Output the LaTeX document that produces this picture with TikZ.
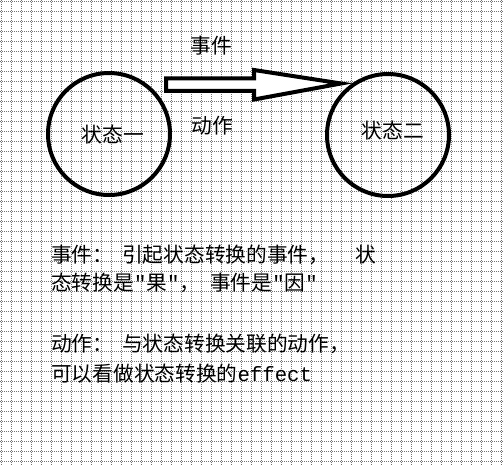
\documentclass[tikz,border=0pt]{standalone}
\usepackage{fontspec}
\newfontfamily\cjk{Noto Sans CJK SC}
\newfontfamily\mono{Liberation Mono}
\begin{document}
\begin{tikzpicture}[x=1pt,y=-1pt,
  gridline/.style={black!55,line width=1pt,dash pattern=on 1pt off 1pt},
  statecircle/.style={circle,draw=black,line width=4pt,minimum size=122pt,inner sep=0pt},
  blockarrow/.style={draw=black,line width=4pt,line join=miter,fill=white},
  txt/.style={inner sep=0pt,text=black,font=\cjk\fontsize{20.7pt}{24pt}\selectfont}]
\useasboundingbox (0,0) rectangle (503,466);
\fill[white] (0,0) rectangle (503,466);
\foreach \i in {0,...,50} {\draw[gridline] ({1.5+10*\i},0) -- ({1.5+10*\i},466);}
\foreach \i in {0,...,46} {\draw[gridline] (0,{1.5+10*\i}) -- (503,{1.5+10*\i});}
% states
\node[statecircle] (s1) at (109,134) {};
\node[statecircle] (s2) at (388,135) {};
\node[txt] (t1) at (113,135) {状态一};
\node[txt] (t2) at (393,131) {状态二};
% block arrow
\draw[blockarrow] (166,78.3) -- (254,78.3) -- (254,70) -- (341,83.5) -- (254,99.5) -- (254,90.8) -- (166,90.8) -- cycle;
\node[txt] (ev) at (211,46) {事件};
\node[txt] (ac) at (212,126) {动作};
% notes
\node[txt,anchor=base west] (l1) at (51,262) {事件：\hspace{9pt}引起状态转换的事件，\hspace{26pt}状};
\node[txt,anchor=base west] (l2) at (51,290.5) {态转换是{\mono "}果{\mono "}，\hspace{10pt}事件是{\mono "}因{\mono "}};
\node[txt,anchor=base west] (l3) at (51,351) {动作：\hspace{9pt}与状态转换关联的动作，};
\node[txt,anchor=base west] (l4) at (51,381.5) {可以看做状态转换的{\mono effect}};
\end{tikzpicture}
\end{document}
